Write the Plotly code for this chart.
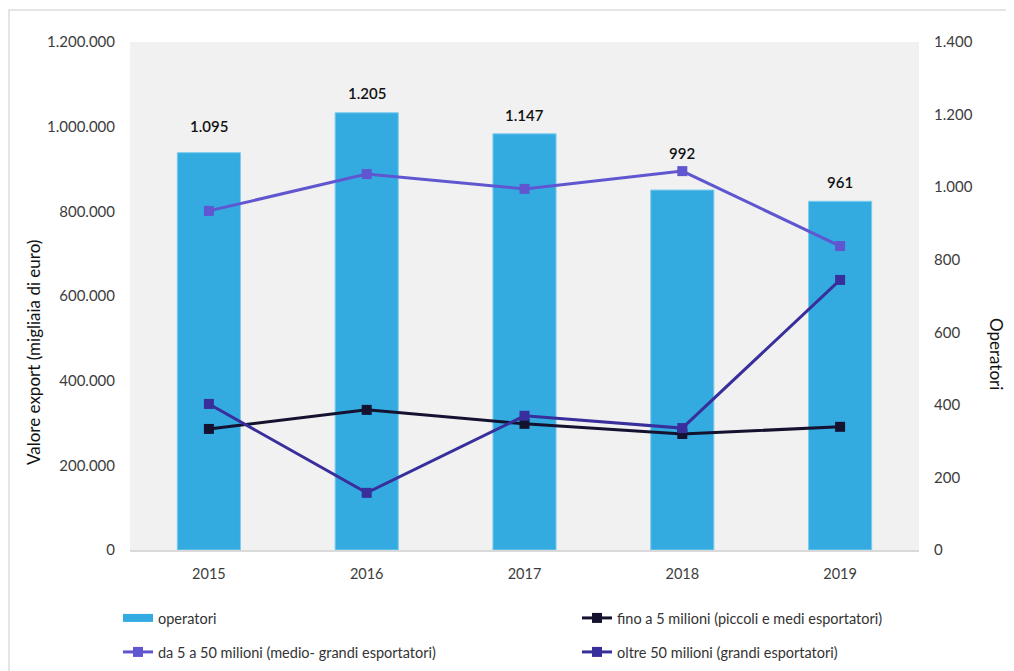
import plotly.graph_objects as go

anni = ["2015", "2016", "2017", "2018", "2019"]
operatori = [1095, 1205, 1147, 992, 961]
operatori_lbl = ["1.095", "1.205", "1.147", "992", "961"]
fino_5 = [286000, 331000, 298000, 274000, 291000]
da_5_50 = [801000, 888000, 853000, 895000, 718000]
oltre_50 = [345000, 135000, 317000, 288000, 638000]

label_shift = [16, 9, 8, 26, 8]

FONT = "Lato"
TICK_COL = "#3c3c3c"
C_BAR = "#34abe0"
C_FINO = "#15122f"
C_DA = "#5f56d0"
C_OLTRE = "#382e9c"

# the page body adds an 8px offset; screen px -> figure px
OFF = 8

fig = go.Figure()
# bars on primary axis (drawn below), lines on overlaying axis (drawn above)
fig.add_trace(go.Bar(
    x=anni, y=operatori, name="operatori", yaxis="y",
    marker=dict(color=C_BAR, line=dict(color="#7ccbee", width=1)),
    width=0.4, showlegend=False, hoverinfo="skip"))
fig.add_trace(go.Scatter(
    x=[None], y=[None], name="operatori", yaxis="y", mode="lines",
    line=dict(color=C_BAR, width=8), legend="legend"))
fig.add_trace(go.Scatter(
    x=anni, y=fino_5, name="fino a 5 milioni (piccoli e medi esportatori)",
    yaxis="y2", mode="lines+markers", line=dict(color=C_FINO, width=3),
    marker=dict(symbol="square", size=10, color=C_FINO), legend="legend2"))
fig.add_trace(go.Scatter(
    x=anni, y=da_5_50, name="da 5 a 50 milioni (medio- grandi esportatori)",
    yaxis="y2", mode="lines+markers", line=dict(color=C_DA, width=3),
    marker=dict(symbol="square", size=10, color=C_DA), legend="legend3"))
fig.add_trace(go.Scatter(
    x=anni, y=oltre_50, name="oltre 50 milioni (grandi esportatori)",
    yaxis="y2", mode="lines+markers", line=dict(color=C_OLTRE, width=3),
    marker=dict(symbol="square", size=10, color=C_OLTRE), legend="legend4"))

annotations = []
for i, (v, t, s) in enumerate(zip(operatori, operatori_lbl, label_shift)):
    annotations.append(dict(x=i, y=v, xref="x", yref="y", text=t,
                            showarrow=False, yanchor="bottom", yshift=s,
                            font=dict(family=FONT, size=15, color="#111111",
                                      weight=600)))


def to_paper(px, py):
    return (px - 130) / 789, (550 - py) / 508


ox, oy = to_paper(997, 354)
annotations.append(dict(x=ox, y=oy, xref="paper", yref="paper",
                        text="Operatori", textangle=90, showarrow=False,
                        xanchor="center", yanchor="middle",
                        font=dict(family=FONT, size=17, color="#111111")))
vx, vy = to_paper(33, 353)
annotations.append(dict(x=vx, y=vy, xref="paper", yref="paper",
                        text="Valore export (migliaia di euro)", textangle=-90,
                        showarrow=False, xanchor="center", yanchor="middle",
                        font=dict(family=FONT, size=17, color="#111111")))


def leg(sx, sy):
    return dict(orientation="h", xref="container", yref="container",
                x=(sx - OFF) / 1014, y=1 - (sy - OFF) / 671,
                xanchor="left", yanchor="middle",
                font=dict(family=FONT, size=14.5, color="#333333"),
                bgcolor="rgba(0,0,0,0)", itemwidth=30)


fig.update_layout(
    width=1014, height=671,
    margin=dict(l=130 - OFF, r=95 + OFF, t=42 - OFF, b=121 + OFF,
                autoexpand=False),
    paper_bgcolor="white", plot_bgcolor="#f1f1f1",
    separators=",.",
    font=dict(family=FONT, color=TICK_COL),
    showlegend=True,
    legend=leg(118, 618),
    legend2=leg(577, 618),
    legend3=leg(118, 652),
    legend4=leg(577, 652),
    xaxis=dict(type="category", range=[-0.5, 4.5], showgrid=False,
               showline=True, linecolor="#d9d9d9", linewidth=1.5,
               automargin=False, ticks="",
               tickfont=dict(size=14.5, color=TICK_COL), ticklabelstandoff=10),
    yaxis=dict(range=[0, 1400], dtick=200, tickformat=",d", side="right",
               showgrid=False, zeroline=False, ticks="", automargin=False,
               tickfont=dict(size=15, color=TICK_COL), ticklabelstandoff=14),
    yaxis2=dict(range=[0, 1200000], dtick=200000, tickformat=",d",
                overlaying="y", side="left", showgrid=False, zeroline=False,
                ticks="", automargin=False,
                tickfont=dict(size=15, color=TICK_COL), ticklabelstandoff=14),
    annotations=annotations,
    shapes=[dict(type="rect", xref="paper", yref="paper",
                 x0=(9 - 130) / 789, x1=1.2, y0=-0.4, y1=(550 - 10) / 508,
                 line=dict(color="#dddddd", width=1.5), layer="below")],
)

fig.write_html("out.html")
